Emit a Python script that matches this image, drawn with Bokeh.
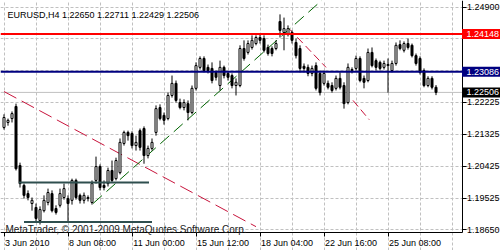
from bokeh.plotting import figure
from bokeh.models import (Range1d, FixedTicker, PrintfTickFormatter, CustomJSTickFormatter,
                          Label, ColumnDataSource, LinearAxis, Grid)
from bokeh.core.properties import value
from bokeh.embed import file_html
from bokeh.resources import INLINE

symbol_title = "EURUSD,H4  1.22650 1.22711 1.22429 1.22506"
copyright_text = "MetaTrader, \u00a9 2001-2009 MetaQuotes Software Corp."

opens = [1.2152, 1.2166, 1.2177, 1.2211, 1.2045, 1.1989, 1.1966, 1.1938, 1.1927, 1.1890,
         1.1918, 1.1941, 1.1966, 1.1924, 1.1933, 1.1955, 1.1952, 1.1947, 1.2003, 1.1961,
         1.1947, 1.1952, 1.1941, 1.2003, 1.2042, 1.1989, 1.1994, 1.2031, 1.2008, 1.2025,
         1.2107, 1.2138, 1.2135, 1.2101, 1.2143, 1.2149, 1.2073, 1.2093, 1.2138, 1.2208,
         1.2186, 1.2177, 1.2242, 1.2276, 1.2222, 1.2208, 1.2219, 1.2194, 1.2262, 1.2321,
         1.2346, 1.2321, 1.2318, 1.2307, 1.2270, 1.2321, 1.2304, 1.2298, 1.2270, 1.2270,
         1.2374, 1.2363, 1.2377, 1.2388, 1.2405, 1.2402, 1.2377, 1.2374, 1.2374, 1.2450,
         1.2419, 1.2416, 1.2419, 1.2391, 1.2374, 1.2324, 1.2321, 1.2304, 1.2326, 1.2304,
         1.2276, 1.2276, 1.2270, 1.2262, 1.2290, 1.2270, 1.2222, 1.2312, 1.2318, 1.2346,
         1.2290, 1.2284, 1.2363, 1.2340, 1.2335, 1.2321, 1.2326, 1.2312, 1.2332, 1.2385,
         1.2369, 1.2388, 1.2383, 1.2354, 1.2346, 1.2312, 1.2270, 1.2290, 1.22650]
highs = [1.2189, 1.2177, 1.2197, 1.2219, 1.2053, 1.1994, 1.1975, 1.1955, 1.1938, 1.1930,
         1.1961, 1.1980, 1.1975, 1.1933, 1.1980, 1.1994, 1.1961, 1.2008, 1.2008, 1.1966,
         1.1969, 1.1961, 1.2003, 1.2070, 1.2048, 1.2003, 1.2039, 1.2059, 1.2067, 1.2121,
         1.2143, 1.2143, 1.2141, 1.2129, 1.2149, 1.2155, 1.2101, 1.2121, 1.2214, 1.2217,
         1.2194, 1.2250, 1.2298, 1.2284, 1.2233, 1.2231, 1.2228, 1.2270, 1.2335, 1.2352,
         1.2352, 1.2329, 1.2335, 1.2312, 1.2340, 1.2326, 1.2309, 1.2304, 1.2290, 1.2383,
         1.2397, 1.2397, 1.2411, 1.2411, 1.2416, 1.2411, 1.2385, 1.2380, 1.2397, 1.2470,
         1.2461, 1.2439, 1.2425, 1.2402, 1.2383, 1.2332, 1.2329, 1.2326, 1.2335, 1.2312,
         1.2312, 1.2284, 1.2279, 1.2298, 1.2307, 1.2279, 1.2332, 1.2321, 1.2354, 1.2352,
         1.2298, 1.2374, 1.2377, 1.2346, 1.2340, 1.2340, 1.2346, 1.2340, 1.2391, 1.2397,
         1.2394, 1.2402, 1.2388, 1.2360, 1.2352, 1.2318, 1.2296, 1.2296, 1.22711]
lows = [1.2146, 1.2157, 1.2166, 1.2031, 1.1983, 1.1952, 1.1947, 1.1918, 1.1885, 1.1879,
        1.1913, 1.1933, 1.1913, 1.1907, 1.1927, 1.1949, 1.1885, 1.1935, 1.1949, 1.1938,
        1.1938, 1.1944, 1.1935, 1.1994, 1.1975, 1.1975, 1.1986, 1.1997, 1.2003, 1.2020,
        1.2101, 1.2115, 1.2093, 1.2087, 1.2087, 1.2050, 1.2065, 1.2087, 1.2129, 1.2172,
        1.2160, 1.2172, 1.2236, 1.2222, 1.2203, 1.2200, 1.2172, 1.2189, 1.2256, 1.2315,
        1.2307, 1.2304, 1.2276, 1.2284, 1.2256, 1.2290, 1.2284, 1.2262, 1.2242, 1.2265,
        1.2340, 1.2357, 1.2371, 1.2383, 1.2388, 1.2363, 1.2354, 1.2352, 1.2369, 1.2405,
        1.2369, 1.2408, 1.2388, 1.2346, 1.2307, 1.2307, 1.2296, 1.2296, 1.2256, 1.2242,
        1.2270, 1.2259, 1.2250, 1.2256, 1.2259, 1.2205, 1.2217, 1.2304, 1.2312, 1.2279,
        1.2262, 1.2279, 1.2321, 1.2312, 1.2312, 1.2315, 1.2250, 1.2307, 1.2326, 1.2369,
        1.2363, 1.2371, 1.2349, 1.2326, 1.2301, 1.2265, 1.2265, 1.2259, 1.22429]
closes = [1.2180, 1.2172, 1.2191, 1.2036, 1.1994, 1.1961, 1.1955, 1.1947, 1.1896, 1.1921,
          1.1947, 1.1969, 1.1918, 1.1913, 1.1966, 1.1980, 1.1938, 1.2003, 1.1955, 1.1947,
          1.1961, 1.1955, 1.1994, 1.2042, 1.1983, 1.1983, 1.2031, 1.2003, 1.2059, 1.2110,
          1.2138, 1.2129, 1.2101, 1.2110, 1.2096, 1.2073, 1.2093, 1.2110, 1.2205, 1.2177,
          1.2172, 1.2242, 1.2276, 1.2228, 1.2208, 1.2222, 1.2194, 1.2262, 1.2326, 1.2346,
          1.2312, 1.2312, 1.2284, 1.2293, 1.2321, 1.2298, 1.2293, 1.2270, 1.2279, 1.2374,
          1.2346, 1.2388, 1.2397, 1.2405, 1.2397, 1.2369, 1.2360, 1.2360, 1.2388, 1.2425,
          1.2430, 1.2430, 1.2397, 1.2354, 1.2318, 1.2318, 1.2304, 1.2318, 1.2262, 1.2250,
          1.2304, 1.2265, 1.2256, 1.2290, 1.2265, 1.2219, 1.2321, 1.2315, 1.2346, 1.2284,
          1.2279, 1.2363, 1.2326, 1.2321, 1.2318, 1.2332, 1.2329, 1.2332, 1.2383, 1.2374,
          1.2388, 1.2377, 1.2354, 1.2332, 1.2307, 1.2270, 1.2290, 1.2265, 1.22506]
bars = list(range(len(opens)))

date_tick_bars = [0, 16, 32, 48, 64, 80, 96]
date_tick_labels = ["3 Jun 2010", "8 Jun 08:00", "11 Jun 00:00", "15 Jun 12:00",
                    "18 Jun 04:00", "22 Jun 16:00", "25 Jun 08:00"]
grid_bars = [0, 8, 16, 24, 32, 40, 48, 56, 64, 72, 80, 88, 96, 104, 112]
price_grid = [1.18650, 1.19525, 1.20425, 1.21325, 1.22225, 1.23125, 1.24025, 1.24900]
price_axis_ticks = [1.18650, 1.19525, 1.20425, 1.21325, 1.22225, 1.24900]

resistance_level = 1.24148
support_level = 1.23086
bid_level = 1.22506
level_values = [resistance_level, support_level, bid_level]
level_colors = ["#ff0000", "#000080", "#000000"]

down_trend_bars = [0, 63]
down_trend_prices = [1.2253, 1.1873]
up_trend_bars = [22.25, 79.5]
up_trend_prices = [1.1938, 1.2510]
drop_a_bars = [71.25, 80.5]
drop_a_prices = [1.2430, 1.2321]
drop_b_bars = [87.25, 91.3]
drop_b_prices = [1.2228, 1.2174]
range_top_bars = [3.75, 36.25]
range_top_prices = [1.1997, 1.1997]
range_bottom_bars = [5.0, 37.0]
range_bottom_prices = [1.1886, 1.1886]

FONT = "Liberation Sans"
W, H = 500, 250
PX_PER_BAR = 4.0
PRICE_PER_PX = 0.00028125
x_start = -0.875
x_end = x_start + W / PX_PER_BAR
y_top = 1.25090625
y_bottom = y_top - H * PRICE_PER_PX
axis_bar = x_start + 461.5 / PX_PER_BAR          # right price scale line
axis_price = y_top - 231.5 * PRICE_PER_PX         # bottom time scale line

p = figure(width=W, height=H, output_backend="svg", toolbar_location=None,
           x_range=Range1d(x_start, x_end), y_range=Range1d(y_bottom, y_top),
           x_axis_type=None, y_axis_type=None,
           min_border_left=0, min_border_right=0, min_border_top=0, min_border_bottom=0,
           background_fill_color="white", border_fill_color="white", outline_line_color=None)

# grid
p.add_layout(Grid(dimension=0, ticker=FixedTicker(ticks=grid_bars), bounds=(axis_price, y_top),
                  grid_line_color="#c0c0c0", grid_line_dash="3 2"), "center")
p.add_layout(Grid(dimension=1, ticker=FixedTicker(ticks=price_grid), bounds=(x_start, axis_bar),
                  grid_line_color="#c0c0c0", grid_line_dash="3 2"), "center")

# price scale (right)
yax = LinearAxis(fixed_location=axis_bar, bounds=(axis_price, y_top),
                 ticker=FixedTicker(ticks=price_axis_ticks),
                 formatter=PrintfTickFormatter(format="%.5f"),
                 major_tick_out=4, major_tick_in=0, minor_tick_out=0, minor_tick_in=0,
                 axis_line_color="black", major_tick_line_color="black",
                 major_label_standoff=1, major_label_text_font=FONT,
                 major_label_text_font_size="9px", major_label_text_color="black")
p.add_layout(yax, "right")

# time scale (bottom): tick marks at the bars, left-aligned date texts
EM = {" ": 0.278, "J": 0.5, "u": 0.556, "n": 0.556, ":": 0.278}
def text_px(s, size=9):
    return sum(EM.get(ch, 0.556) for ch in s) * size
label_centers = [b + (1 + text_px(t) / 2) / PX_PER_BAR for b, t in zip(date_tick_bars, date_tick_labels)]
xax = LinearAxis(fixed_location=axis_price, bounds=(x_start, axis_bar),
                 ticker=FixedTicker(ticks=label_centers, minor_ticks=date_tick_bars),
                 formatter=CustomJSTickFormatter(args=dict(centers=label_centers, labels=date_tick_labels),
                                                 code="const i = centers.indexOf(tick); return i >= 0 ? labels[i] : '';"),
                 major_tick_out=0, major_tick_in=0, minor_tick_out=4, minor_tick_in=0,
                 axis_line_color="black", minor_tick_line_color="black",
                 major_label_standoff=2, major_label_text_font=FONT,
                 major_label_text_font_size="9px", major_label_text_color="black")
p.add_layout(xax, "below")

# bid line
p.segment(x0=[x_start], y0=[bid_level], x1=[axis_bar], y1=[bid_level], line_color="#c0c0c0", line_width=1)

# trend lines
p.line(down_trend_bars, down_trend_prices, line_color="#c8143c", line_width=1, line_dash="14 6")
p.line(drop_a_bars, drop_a_prices, line_color="#c8143c", line_width=1, line_dash="8 4")
p.line(drop_b_bars, drop_b_prices, line_color="#c8143c", line_width=1, line_dash="8 4")
p.line(up_trend_bars, up_trend_prices, line_color="#006400", line_width=1, line_dash="12 6")

# candles
body_top = [max(o, c) for o, c in zip(opens, closes)]
body_bottom = [min(o, c) for o, c in zip(opens, closes)]
body_fill = ["white" if c >= o else "black" for o, c in zip(opens, closes)]
src = ColumnDataSource(dict(bar=bars, open=opens, high=highs, low=lows, close=closes,
                            top=body_top, bottom=body_bottom, fill=body_fill))
p.segment(x0="bar", y0="low", x1="bar", y1="high", source=src, line_color="black", line_width=1)
p.vbar(x="bar", width=0.5, top="top", bottom="bottom", fill_color="fill",
       line_color="black", line_width=1, source=src)

p.line(range_top_bars, range_top_prices, line_color="#2f4f4f", line_width=2)
p.line(range_bottom_bars, range_bottom_prices, line_color="#2f4f4f", line_width=2)

# horizontal levels
p.segment(x0=[x_start, x_start], y0=[resistance_level, support_level],
          x1=[axis_bar, axis_bar], y1=[resistance_level, support_level],
          line_color=["#ff0000", "#000080"], line_width=2)

# price tags on the right scale
half_box = 5 * PRICE_PER_PX
p.quad(left=[axis_bar] * 3, right=[x_end] * 3,
       top=[v + half_box for v in level_values], bottom=[v - half_box for v in level_values],
       fill_color=level_colors, line_color=None, level="overlay")
p.text(x=[x_start + 466 / PX_PER_BAR] * 3, y=level_values, text=[f"{v:.5f}" for v in level_values],
       text_color="white", text_font=value(FONT), text_font_size="9px",
       text_baseline="middle", text_align="left", level="overlay")

p.add_layout(Label(x=7, y=H - 14, x_units="screen", y_units="screen", text=symbol_title,
                   text_font=FONT, text_font_size="9px", text_color="black",
                   text_align="left", text_baseline="alphabetic"))
p.add_layout(Label(x=5, y=H - 228.5, x_units="screen", y_units="screen", text=copyright_text,
                   text_font=FONT, text_font_size="10px", text_color="#202020",
                   text_align="left", text_baseline="alphabetic"))

open("out.html", "w").write(file_html(p, INLINE))
